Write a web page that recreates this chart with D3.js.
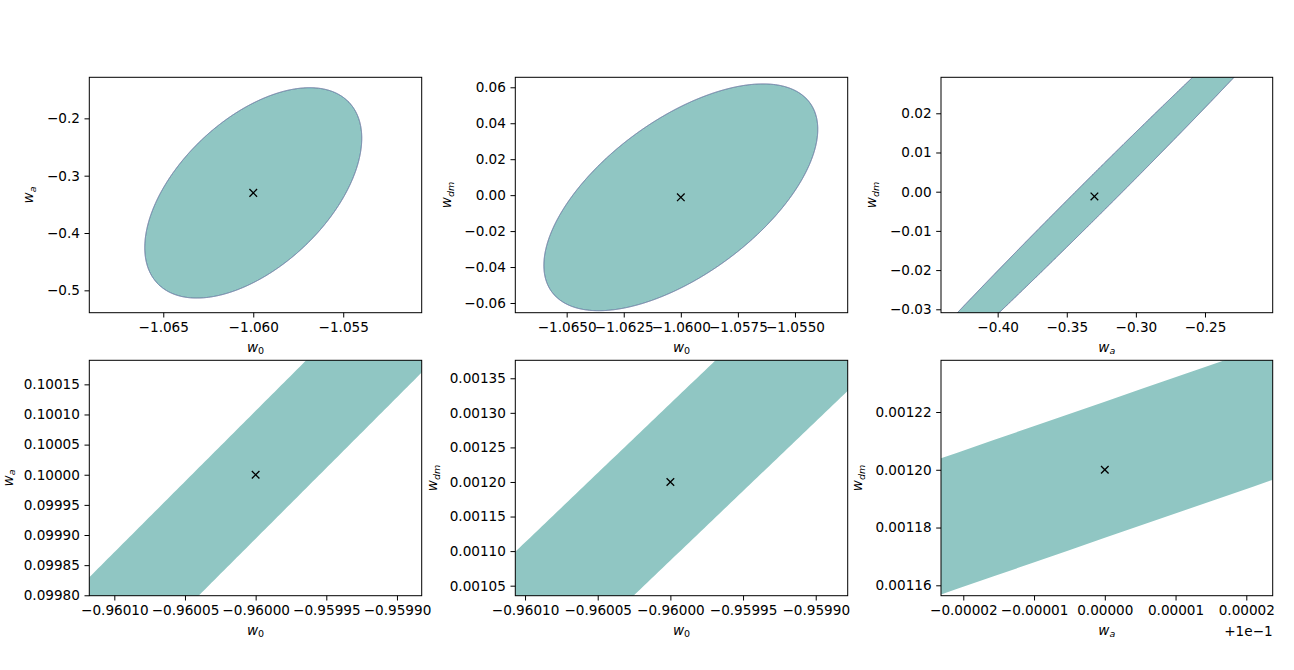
<!DOCTYPE html>
<html>
<head>
<meta charset="utf-8">
<script src="https://cdn.jsdelivr.net/npm/d3@7"></script>
<style>
  body { margin: 0; background: #fff; }
  text { font-family: "DejaVu Sans", sans-serif; fill: #000; }
</style>
</head>
<body>
<div id="chart"></div>
<script>
// Fisher-forecast contours, one panel per parameter pair
const xNames = ["0", "0", "a", "0", "0", "a"];
const yNames = ["a", "dm", "dm", "a", "dm", "dm"];

const xDomains = [
  [-1.06911, -1.05064], [-1.06725, -1.05269], [-0.441, -0.201],
  [-0.9601177, -0.9598825], [-0.9601067, -0.959878], [0.09997685, 0.10002373]
];
const yDomains = [
  [-0.539, -0.1284], [-0.0654, 0.06556], [-0.03087, 0.02918],
  [0.0997993, 0.1001899], [0.0010355, 0.001376], [0.0011564, 0.0012379]
];

const xTicks = [
  [-1.065, -1.060, -1.055],
  [-1.065, -1.0625, -1.060, -1.0575, -1.055],
  [-0.40, -0.35, -0.30, -0.25],
  [-0.96010, -0.96005, -0.96000, -0.95995, -0.95990],
  [-0.96010, -0.96005, -0.96000, -0.95995, -0.95990],
  [0.09998, 0.09999, 0.1, 0.10001, 0.10002]
];
const xTickLabels = [
  ["−1.065", "−1.060", "−1.055"],
  ["−1.0650", "−1.0625", "−1.0600", "−1.0575", "−1.0550"],
  ["−0.40", "−0.35", "−0.30", "−0.25"],
  ["−0.96010", "−0.96005", "−0.96000", "−0.95995", "−0.95990"],
  ["−0.96010", "−0.96005", "−0.96000", "−0.95995", "−0.95990"],
  ["−0.00002", "−0.00001", "0.00000", "0.00001", "0.00002"]
];
const yTicks = [
  [-0.5, -0.4, -0.3, -0.2],
  [-0.06, -0.04, -0.02, 0, 0.02, 0.04, 0.06],
  [-0.03, -0.02, -0.01, 0, 0.01, 0.02],
  [0.09980, 0.09985, 0.09990, 0.09995, 0.10000, 0.10005, 0.10010, 0.10015],
  [0.00105, 0.00110, 0.00115, 0.00120, 0.00125, 0.00130, 0.00135],
  [0.00116, 0.00118, 0.00120, 0.00122]
];
const yTickLabels = [
  ["−0.5", "−0.4", "−0.3", "−0.2"],
  ["−0.06", "−0.04", "−0.02", "0.00", "0.02", "0.04", "0.06"],
  ["−0.03", "−0.02", "−0.01", "0.00", "0.01", "0.02"],
  ["0.09980", "0.09985", "0.09990", "0.09995", "0.10000", "0.10005", "0.10010", "0.10015"],
  ["0.00105", "0.00110", "0.00115", "0.00120", "0.00125", "0.00130", "0.00135"],
  ["0.00116", "0.00118", "0.00120", "0.00122"]
];
const offsetTexts = ["", "", "", "", "", "+1e−1"];

// fiducial point and contour ellipse (half extents + correlation)
const centerX = [-1.06, -1.06, -0.33, -0.96, -0.96, 0.1];
const centerY = [-0.33, -0.0012, -0.0012, 0.1, 0.0012, 0.0012];
const halfX = [0.00603, 0.006, 0.1835, 0.00213198, 0.0024875, 0.005];
const halfY = [0.1835, 0.0631, 0.0645, 0.005, 0.005, 0.004235];
const rho = [0.52, 0.6, 0.9957, 0.999775, 0.999742, 0.9999845];

// layout
const W = 1294, H = 670;
const cols = [[89.3, 421.7], [515.3, 847.7], [941, 1272.7]];
const rows = [[77.3, 312.7], [360.3, 595.7]];
const yLabelX = [33, 451, 876, 12.5, 437, 862];
const fs = 13.6;
const fill = "#90c6c3", edge = "#66709c";

const svg = d3.select("#chart").append("svg")
  .attr("width", W).attr("height", H);

function ellipsePoints(i) {
  const n = 6000, s = Math.sqrt(1 - rho[i] * rho[i]);
  return d3.range(n).map(k => {
    const t = 2 * Math.PI * k / n;
    return [centerX[i] + halfX[i] * Math.cos(t),
            centerY[i] + halfY[i] * (rho[i] * Math.cos(t) + s * Math.sin(t))];
  });
}

function addLabel(sel, name) {
  sel.append("tspan").style("font-style", "italic").text("w");
  sel.append("tspan")
    .attr("font-size", fs * 0.7)
    .attr("dy", fs * 0.2)
    .style("font-style", name === "0" ? "normal" : "italic")
    .text(name);
}

for (let i = 0; i < 6; i++) {
  const [x0, x1] = cols[i % 3];
  const [y0, y1] = rows[Math.floor(i / 3)];
  const x = d3.scaleLinear().domain(xDomains[i]).range([x0, x1]);
  const y = d3.scaleLinear().domain(yDomains[i]).range([y1, y0]);
  const g = svg.append("g");

  g.append("clipPath").attr("id", "clip" + i)
    .append("rect").attr("x", x0).attr("y", y0)
    .attr("width", x1 - x0).attr("height", y1 - y0);

  const line = d3.line()
    .x(d => x(d[0])).y(d => y(d[1]))
    .curve(d3.curveLinearClosed);

  g.append("path")
    .datum(ellipsePoints(i))
    .attr("clip-path", `url(#clip${i})`)
    .attr("d", line)
    .attr("fill", fill)
    .attr("stroke", i < 3 ? edge : "none")
    .attr("stroke-width", 1);

  // fiducial marker
  g.append("path")
    .attr("transform", `translate(${x(centerX[i])},${y(centerY[i])})`)
    .attr("d", "M-3.8,-3.8L3.8,3.8M-3.8,3.8L3.8,-3.8")
    .attr("stroke", "#000").attr("stroke-width", 1.3);

  const xAxis = d3.axisBottom(x).tickValues(xTicks[i])
    .tickFormat((d, j) => xTickLabels[i][j]).tickSize(4.8).tickPadding(4.6);
  const yAxis = d3.axisLeft(y).tickValues(yTicks[i])
    .tickFormat((d, j) => yTickLabels[i][j]).tickSize(4.8).tickPadding(4.6);

  const gx = g.append("g").attr("transform", `translate(0,${y1})`).call(xAxis);
  const gy = g.append("g").attr("transform", `translate(${x0},0)`).call(yAxis);
  [gx, gy].forEach(a => {
    a.select(".domain").remove();
    a.selectAll("line").attr("stroke", "#000").attr("stroke-width", 1);
    a.selectAll("text").attr("font-size", fs).attr("font-family", "DejaVu Sans").attr("fill", "#000");
  });

  g.append("rect")
    .attr("x", x0).attr("y", y0)
    .attr("width", x1 - x0).attr("height", y1 - y0)
    .attr("fill", "none").attr("stroke", "#000").attr("stroke-width", 1);

  // axis labels
  const xl = g.append("text")
    .attr("x", (x0 + x1) / 2).attr("y", y1 + 39)
    .attr("text-anchor", "middle").attr("font-size", fs);
  addLabel(xl, xNames[i]);

  const yl = g.append("text")
    .attr("transform", `translate(${yLabelX[i]},${(y0 + y1) / 2}) rotate(-90)`)
    .attr("text-anchor", "middle").attr("font-size", fs);
  addLabel(yl, yNames[i]);

  if (offsetTexts[i]) {
    g.append("text")
      .attr("x", x1).attr("y", y1 + 40)
      .attr("text-anchor", "end").attr("font-size", fs)
      .text(offsetTexts[i]);
  }
}
</script>
</body>
</html>
